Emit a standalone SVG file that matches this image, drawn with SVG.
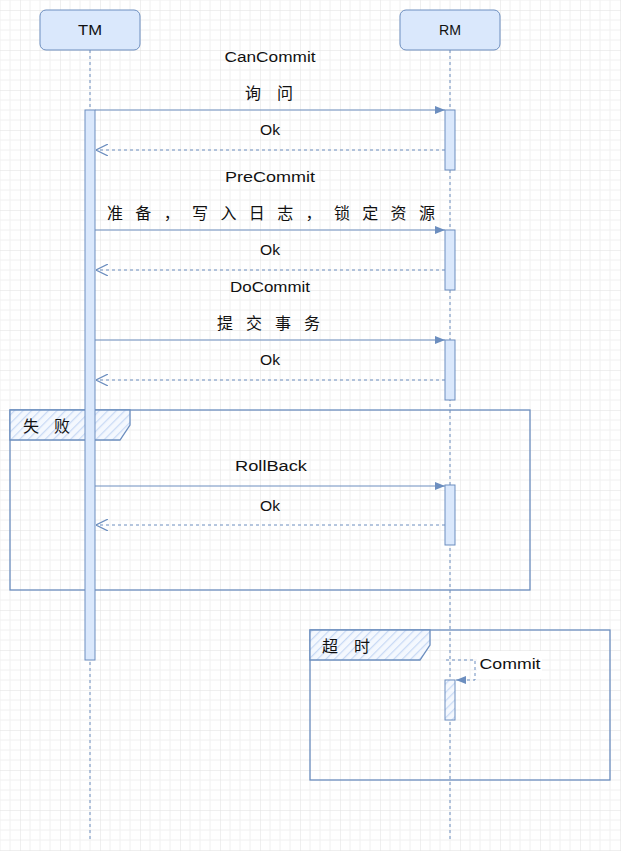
<svg xmlns="http://www.w3.org/2000/svg" width="621" height="851" viewBox="0 0 621 851">
<style>
.lbl{font-family:"Liberation Sans","Noto Sans CJK SC",sans-serif;font-size:14px;fill:#111;text-anchor:middle;dominant-baseline:central}
.cjk{font-family:"Noto Sans CJK SC","Noto Sans CJK JP",sans-serif;font-size:16px;font-weight:400;fill:#111;dominant-baseline:central}
.box{fill:#dae8fc;stroke:#6c8ebf;stroke-width:1}
.life{stroke:#6c8ebf;stroke-width:1;stroke-dasharray:3 3;fill:none}
.act{fill:#dae8fc;stroke:#6c8ebf;stroke-width:1}
.msg{stroke:#6c8ebf;stroke-width:1;fill:none}
.ret{stroke:#6c8ebf;stroke-width:1;stroke-dasharray:3 3;fill:none}
.frame{fill:none;stroke:#6c8ebf;stroke-width:1.3}
.tab{fill:url(#hatch);stroke:#6c8ebf;stroke-width:1.3}
</style>
<defs>
<pattern id="grid" width="40" height="40" patternUnits="userSpaceOnUse" x="20" y="10">
<path d="M10 0V40M20 0V40M30 0V40M0 10H40M0 20H40M0 30H40" stroke="#f0f0f0" stroke-width="1" fill="none"/>
<path d="M0 0V40M0 0H40" stroke="#e0e0e0" stroke-width="1" fill="none"/>
</pattern>
<pattern id="hatch" width="6" height="6" patternUnits="userSpaceOnUse" patternTransform="rotate(45)">
<rect width="6" height="6" fill="#f4f8fe"/>
<line x1="0" y1="0" x2="0" y2="6" stroke="#c9daf5" stroke-width="2.5"/>
</pattern>
<marker id="fill" viewBox="0 0 10 10" refX="10" refY="5" markerWidth="10" markerHeight="10" markerUnits="userSpaceOnUse" orient="auto">
<path d="M0 1L10 5L0 9Z" fill="#6c8ebf"/>
</marker>
<marker id="open" viewBox="0 0 10 10" refX="10" refY="5" markerWidth="12" markerHeight="12" markerUnits="userSpaceOnUse" orient="auto">
<path d="M0 0L10 5L0 10" fill="none" stroke="#6c8ebf" stroke-width="1"/>
</marker>
</defs>
<rect width="621" height="851" fill="#ffffff"/>
<rect width="621" height="851" fill="url(#grid)"/>

<g id="frame-fail">
<rect class="frame" x="10" y="410" width="520" height="180"/>
<path class="tab" d="M10 410H130V425L120 440H10Z"/>
<text class="cjk" x="23" y="425" textLength="47" lengthAdjust="spacing">失败</text>
</g>
<g id="frame-timeout">
<rect class="frame" x="310" y="630" width="300" height="150"/>
<path class="tab" d="M310 630H430V645L420 660H310Z"/>
<text class="cjk" x="322" y="645" textLength="48" lengthAdjust="spacing">超时</text>
</g>

<g id="TM">
<line class="life" x1="90" y1="50" x2="90" y2="840"/>
<rect class="box" x="40" y="10" width="100" height="40" rx="6"/>
<text class="lbl" x="90" y="30" textLength="24" lengthAdjust="spacingAndGlyphs">TM</text>
<rect class="act" x="85" y="110" width="10" height="550"/>
</g>
<g id="RM">
<line class="life" x1="450" y1="50" x2="450" y2="840"/>
<rect class="box" x="400" y="10" width="100" height="40" rx="6"/>
<text class="lbl" x="450" y="30" textLength="22" lengthAdjust="spacingAndGlyphs">RM</text>
<rect class="act" x="445" y="110" width="10" height="60"/>
<rect class="act" x="445" y="230" width="10" height="60"/>
<rect class="act" x="445" y="340" width="10" height="60"/>
<rect class="act" x="445" y="485" width="10" height="60"/>
<rect class="act" x="445" y="680" width="10" height="40" style="fill:url(#hatch)"/>
</g>

<g id="connectors">
<line class="msg" x1="95" y1="110" x2="445" y2="110" marker-end="url(#fill)"/>
<line class="ret" x1="445" y1="150" x2="96" y2="150" marker-end="url(#open)"/>
<line class="msg" x1="95" y1="230" x2="445" y2="230" marker-end="url(#fill)"/>
<line class="ret" x1="445" y1="270" x2="96" y2="270" marker-end="url(#open)"/>
<line class="msg" x1="95" y1="340" x2="445" y2="340" marker-end="url(#fill)"/>
<line class="ret" x1="445" y1="380" x2="96" y2="380" marker-end="url(#open)"/>
<line class="msg" x1="95" y1="486" x2="445" y2="486" marker-end="url(#fill)"/>
<line class="ret" x1="445" y1="525" x2="96" y2="525" marker-end="url(#open)"/>
<polyline class="ret" points="446,660 475,660 475,680 456,680" marker-end="url(#fill)"/>
</g>

<g id="labels">
<text class="lbl" x="270" y="57" textLength="91" lengthAdjust="spacingAndGlyphs">CanCommit</text>
<text class="cjk" x="245" y="92" textLength="48" lengthAdjust="spacing">询问</text>
<text class="lbl" x="270" y="130" textLength="20" lengthAdjust="spacingAndGlyphs">Ok</text>
<text class="lbl" x="270" y="177" textLength="90" lengthAdjust="spacingAndGlyphs">PreCommit</text>
<text class="cjk" x="107" y="212" textLength="328" lengthAdjust="spacing">准备，写入日志，锁定资源</text>
<text class="lbl" x="270" y="250" textLength="20" lengthAdjust="spacingAndGlyphs">Ok</text>
<text class="lbl" x="270" y="287" textLength="80" lengthAdjust="spacingAndGlyphs">DoCommit</text>
<text class="cjk" x="217" y="322" textLength="103" lengthAdjust="spacing">提交事务</text>
<text class="lbl" x="270" y="360" textLength="20" lengthAdjust="spacingAndGlyphs">Ok</text>
<text class="lbl" x="271" y="466" textLength="72" lengthAdjust="spacingAndGlyphs">RollBack</text>
<text class="lbl" x="270" y="506" textLength="20" lengthAdjust="spacingAndGlyphs">Ok</text>
<rect x="477" y="651" width="65" height="28" fill="#ffffff"/>
<text class="lbl" x="510" y="664" textLength="61" lengthAdjust="spacingAndGlyphs">Commit</text>
</g>
</svg>
